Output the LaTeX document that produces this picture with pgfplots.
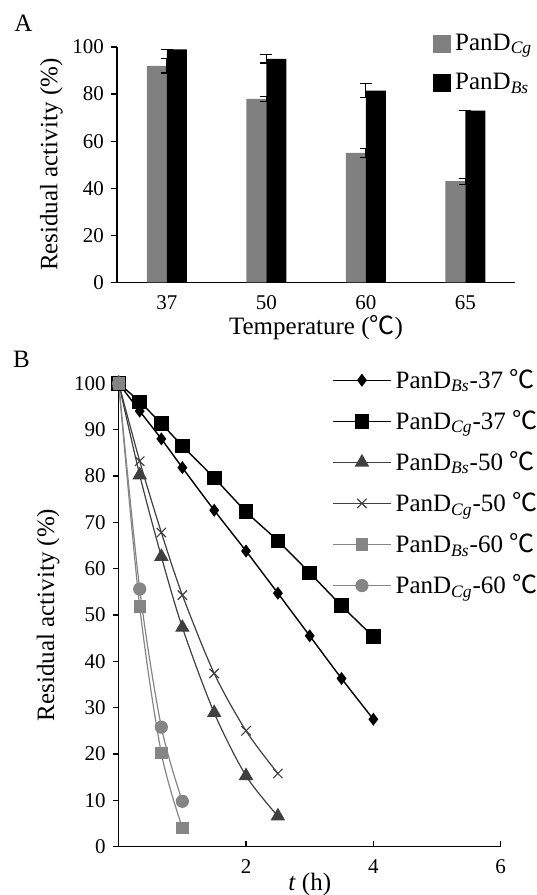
\documentclass[border=0pt]{standalone}
\usepackage{pgfplots}
\pgfplotsset{compat=1.18}
\usepackage{fontspec}
\setmainfont{Liberation Serif}
\newfontfamily\cjk{Noto Sans CJK SC}
\newcommand{\degC}{{\cjk ℃}}
\definecolor{barg}{HTML}{808080}
\definecolor{dgray}{HTML}{404040}
\definecolor{lgray}{HTML}{858585}

\pgfplotsset{
  common/.style={
    scale only axis,
    axis x line*=bottom, axis y line*=left,
    axis line style={-, line width=0.7pt},
    tick align=outside, major tick length=3pt,
    tick style={black, line width=0.6pt},
    /pgf/number format/assume math mode=true,
    label style={font=\fontsize{12.5}{14}\selectfont},
    legend cell align=left,
  },
  lleg/.style={legend image code/.code={\draw[mark repeat=2, mark phase=2, ##1]
    plot coordinates {(0pt,0pt) (14.5pt,0pt) (29pt,0pt)};}},
}

\begin{document}
\begin{tikzpicture}
\path[use as bounding box] (0pt,0pt) rectangle (268pt,447.5pt);
\node[anchor=base west, inner sep=0pt, font=\fontsize{12.5}{14}\selectfont] at (7pt,431.7pt) {A};
\node[anchor=base west, inner sep=0pt, font=\fontsize{12.5}{14}\selectfont] at (6.3pt,263.5pt) {B};

% panel A
\begin{axis}[common,
  at={(58.5pt,306.25pt)}, anchor=south west,
  width=199pt, height=117.75pt,
  bar width=10pt,
  xmin=-0.5, xmax=3.5, ymin=0, ymax=100,
  xtick={0,1,2,3}, xticklabels={37,50,60,65},
  ytick={0,20,...,100},
  x tick style={draw=none},
  tick label style={font=\fontsize{10.5}{12}\selectfont},
  xlabel={Temperature (\degC)}, ylabel={Residual activity (\%)},
  x label style={at={(axis description cs:0.5,-0.193)}, anchor=center},
  y label style={at={(axis description cs:-0.165,0.5)}, anchor=center, rotate=0},
  legend style={draw=none, fill=none, at={(0.794,1.075)}, anchor=north west,
    font=\fontsize{12.5}{14}\selectfont, row sep=6pt, inner sep=0pt},
]
\addlegendimage{legend image code/.code={\fill[barg] (0pt,-4.25pt) rectangle (8.5pt,4.25pt);}}
\addlegendentry{PanD\textsubscript{\textit{Cg}}}
\addlegendimage{legend image code/.code={\fill[black] (0pt,-4.25pt) rectangle (8.5pt,4.25pt);}}
\addlegendentry{PanD\textsubscript{\textit{Bs}}}
\addplot[forget plot, ybar, bar shift=-5pt, fill=barg, draw=none,
  error bars/.cd, y dir=both, y explicit,
  error bar style={black, line width=0.6pt},
  error mark options={rotate=90, mark size=3pt, black, line width=0.6pt}]
  coordinates {(0,92) +- (0,3) (1,78) +- (0,1) (2,55) +- (0,1.8) (3,43) +- (0,1.3)};
\addplot[forget plot, ybar, bar shift=5pt, fill=black, draw=none,
  error bars/.cd, y dir=both, y explicit,
  error bar style={black, line width=0.6pt},
  error mark options={rotate=90, mark size=3pt, black, line width=0.6pt}]
  coordinates {(0,99) +- (0,0) (1,95) +- (0,1.8) (2,81.5) +- (0,3) (3,73) +- (0,0)};
\end{axis}

% panel B
\begin{axis}[common,
  at={(59.35pt,24.15pt)}, anchor=south west,
  width=191pt, height=231.7pt,
  xmin=0, xmax=6, ymin=0, ymax=100,
  xtick={2,4,6}, ytick={0,10,...,100},
  x tick style={yshift=3pt},
  tick label style={font=\fontsize{10.5}{12}\selectfont},
  xlabel={\textit{t} (h)}, ylabel={Residual activity (\%)},
  x label style={at={(axis description cs:0.5,-0.0826)}, anchor=center},
  y label style={at={(axis description cs:-0.185,0.5)}, anchor=center, rotate=0},
  legend style={draw=none, fill=none, at={(0.558,1.04)}, anchor=north west,
    font=\fontsize{12.5}{14}\selectfont, row sep=5.5pt, inner sep=0pt},
]
\addplot[lleg, black, line width=0.7pt, smooth, mark=diamond*, mark size=2.7pt]
  coordinates {(0,100) (0.33,94.0) (0.67,88.0) (1,81.8) (1.5,72.6) (2,63.8) (2.5,54.7) (3,45.5) (3.5,36.3) (4,27.5)};
\addlegendentry{PanD\textsubscript{\textit{Bs}}-37 \degC}
\addplot[lleg, black, line width=0.7pt, smooth, mark=square*, mark size=3.3pt]
  coordinates {(0,100) (0.33,96.0) (0.67,91.3) (1,86.5) (1.5,79.6) (2,72.3) (2.5,66.0) (3,59.1) (3.5,52.0) (4,45.3)};
\addlegendentry{PanD\textsubscript{\textit{Cg}}-37 \degC}
\addplot[lleg, dgray, line width=0.6pt, smooth, mark=triangle*, mark size=3.6pt]
  coordinates {(0,100) (0.33,80.2) (0.67,62.6) (1,47.3) (1.5,28.9) (2,15.3) (2.5,6.6)};
\addlegendentry{PanD\textsubscript{\textit{Bs}}-50 \degC}
\addplot[lleg, dgray, line width=0.6pt, smooth, mark=x, mark size=3.3pt]
  coordinates {(0,100) (0.33,83.2) (0.67,67.8) (1,54.3) (1.5,37.4) (2,25.0) (2.5,15.8)};
\addlegendentry{PanD\textsubscript{\textit{Cg}}-50 \degC}
\addplot[lleg, lgray, line width=0.6pt, smooth, mark=square*, mark size=2.8pt]
  coordinates {(0,100) (0.33,51.8) (0.67,20.2) (1,4.1)};
\addlegendentry{PanD\textsubscript{\textit{Bs}}-60 \degC}
\addplot[lleg, lgray, line width=0.6pt, smooth, mark=*, mark size=3pt]
  coordinates {(0,100) (0.33,55.6) (0.67,25.8) (1,9.8)};
\addlegendentry{PanD\textsubscript{\textit{Cg}}-60 \degC}
\end{axis}
\end{tikzpicture}
\end{document}
